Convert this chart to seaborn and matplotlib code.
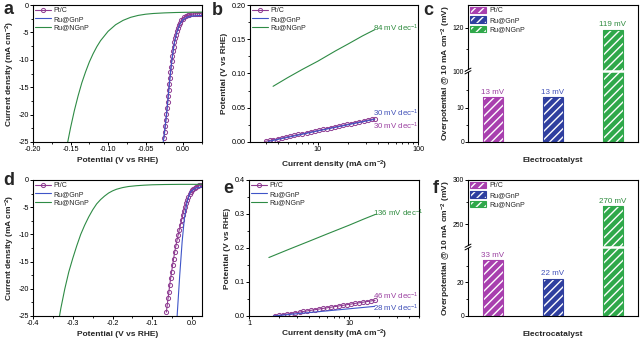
import numpy as np
import pandas as pd
import matplotlib
matplotlib.use("Agg")
import matplotlib.pyplot as plt
import seaborn as sns
from matplotlib.patches import Patch, Rectangle
from matplotlib.legend_handler import HandlerTuple
from matplotlib.lines import Line2D
from matplotlib.ticker import (MultipleLocator, LogLocator, NullFormatter,
                               FuncFormatter, FixedLocator)

# ---------------- data ----------------
series = ["Pt/C", "Ru@GnP", "Ru@NGnP"]

# (a) LSV, acidic
a_ptc_E = [-0.0256, -0.0247, -0.0240, -0.0231, -0.0223, -0.0215, -0.0207, -0.0201, -0.0194,
           -0.0187, -0.0179, -0.0171, -0.0162, -0.0153, -0.0144, -0.0135, -0.0126, -0.0117,
           -0.0107, -0.0096, -0.0084, -0.0071, -0.0057, -0.0042, -0.0026, -0.0008, 0.0012,
           0.0034, 0.0057, 0.0082, 0.0108, 0.0134, 0.0160, 0.0187, 0.0213, 0.0240]
a_ptc_j = [-24.3, -23.2, -22.1, -21.0, -19.9, -18.8, -17.7, -16.6, -15.5, -14.4, -13.3, -12.3,
           -11.3, -10.3, -9.3, -8.4, -7.6, -6.8, -6.1, -5.4, -4.8, -4.2, -3.7, -3.2, -2.8, -2.5,
           -2.25, -2.05, -1.9, -1.8, -1.72, -1.66, -1.62, -1.60, -1.58, -1.57]
a_gnp_E = [-0.0270, -0.0222, -0.0188, -0.0155, -0.0122, -0.0088, -0.0048, -0.0005, 0.0055, 0.0130, 0.0250]
a_gnp_j = [-25.5, -20.0, -15.0, -10.5, -7.2, -5.1, -3.6, -2.7, -2.2, -2.0, -1.9]
a_ngnp_E = [-0.1545, -0.150, -0.145, -0.140, -0.135, -0.130, -0.125, -0.120, -0.115, -0.110,
            -0.100, -0.090, -0.080, -0.070, -0.060, -0.050, -0.040, -0.025, -0.010, 0.010, 0.025]
a_ngnp_j = [-25.5, -22.4, -19.3, -16.6, -14.2, -12.2, -10.4, -8.9, -7.6, -6.5, -4.8, -3.6, -2.8,
            -2.25, -1.9, -1.68, -1.55, -1.44, -1.37, -1.32, -1.30]

# (b) Tafel, acidic
b_ptc_i = [3.0, 3.3, 3.6, 4.0, 4.4, 4.8, 5.3, 5.8, 6.4, 7.0, 7.7, 8.5, 9.3, 10.2, 11.2, 12.3,
           13.5, 14.8, 16.3, 17.9, 19.7, 21.6, 23.7, 26.0, 28.6, 31.4, 34.5, 37.0]
b_ptc_V = [0.0010, 0.0022, 0.0034, 0.0048, 0.0060, 0.0072, 0.0085, 0.0097, 0.0110, 0.0121,
           0.0134, 0.0147, 0.0159, 0.0171, 0.0183, 0.0195, 0.0208, 0.0220, 0.0233, 0.0245,
           0.0258, 0.0270, 0.0282, 0.0294, 0.0307, 0.0319, 0.0331, 0.0340]
b_gnp_i = [3.2, 5.0, 10.0, 20.0, 37.0]
b_gnp_V = [0.0008, 0.0068, 0.0162, 0.0252, 0.0332]
b_ngnp_i = [3.57, 5.0, 7.0, 10.0, 15.0, 20.0, 28.0, 37.0]
b_ngnp_V = [0.0813, 0.094, 0.106, 0.118, 0.133, 0.143, 0.155, 0.164]
b_slopes = [30, 30, 84]

# (c) overpotential @ 10 mA cm-2, acidic
c_overpot = [13, 13, 119]

# (d) LSV, alkaline
d_ptc_E = [-0.0647, -0.0625, -0.0603, -0.0582, -0.0561, -0.0539, -0.0515, -0.0490, -0.0465,
           -0.0438, -0.0410, -0.0380, -0.0350, -0.0320, -0.0290, -0.0262, -0.0236, -0.0208,
           -0.0180, -0.0152, -0.0126, -0.0095, -0.0063, -0.0032, 0.0000, 0.0035, 0.0070,
           0.0105, 0.0140, 0.0175, 0.0210, 0.0245]
d_ptc_j = [-24.3, -23.0, -21.7, -20.5, -19.3, -18.1, -16.9, -15.7, -14.5, -13.3, -12.2, -11.1,
           -10.1, -9.1, -8.2, -7.3, -6.5, -5.7, -5.0, -4.3, -3.7, -3.1, -2.6, -2.2, -1.9, -1.6,
           -1.4, -1.25, -1.1, -1.0, -0.92, -0.86]
d_gnp_E = [-0.0380, -0.0310, -0.0250, -0.0194, -0.0126, -0.0043, 0.0083, 0.0250]
d_gnp_j = [-25.5, -17.5, -11.4, -7.1, -4.0, -2.2, -1.5, -1.3]
d_ngnp_E = [-0.3345, -0.330, -0.320, -0.310, -0.300, -0.290, -0.280, -0.270, -0.260, -0.250,
            -0.240, -0.230, -0.220, -0.210, -0.200, -0.190, -0.175, -0.160, -0.140, -0.120,
            -0.100, -0.070, -0.030, 0.025]
d_ngnp_j = [-25.5, -23.6, -20.0, -16.9, -14.4, -12.1, -10.0, -8.3, -6.8, -5.5, -4.4, -3.6,
            -2.95, -2.4, -2.0, -1.7, -1.4, -1.2, -1.05, -0.95, -0.88, -0.83, -0.80, -0.80]

# (e) Tafel, alkaline
e_ptc_i = [1.8, 2.0, 2.2, 2.4, 2.6, 2.9, 3.2, 3.5, 3.8, 4.2, 4.6, 5.0, 5.5, 6.0, 6.6, 7.2,
           7.9, 8.7, 9.6, 10.5, 11.5, 12.6, 13.8, 15.1, 16.6, 18.2]
e_ptc_V = [0.0000, 0.0021, 0.0040, 0.0057, 0.0073, 0.0095, 0.0115, 0.0133, 0.0149, 0.0169,
           0.0187, 0.0204, 0.0223, 0.0240, 0.0259, 0.0277, 0.0295, 0.0314, 0.0334, 0.0352,
           0.0370, 0.0388, 0.0406, 0.0424, 0.0443, 0.0461]
e_gnp_i = [1.75, 3.0, 5.0, 10.0, 18.0]
e_gnp_V = [0.0, 0.0066, 0.0128, 0.0212, 0.0283]
e_ngnp_i = [1.58, 2.5, 4.0, 6.0, 10.0, 14.0, 18.4]
e_ngnp_V = [0.172, 0.196, 0.220, 0.241, 0.267, 0.285, 0.299]
e_slopes = [46, 28, 136]

# (f) overpotential @ 10 mA cm-2, alkaline
f_overpot = [33, 22, 270]

# ---------------- style ----------------
line_colors = {"Pt/C": "#8e3b91", "Ru@GnP": "#3f55c8", "Ru@NGnP": "#2e8b45"}
bar_colors = {"Pt/C": "#a83fae", "Ru@GnP": "#2f3f9f", "Ru@NGnP": "#2fa84a"}
text_colors = {"Pt/C": "#9a3fa0", "Ru@GnP": "#4050b8", "Ru@NGnP": "#2e8b3e"}

sns.set_theme(style="ticks")
plt.rcParams.update({
    "font.family": ["Liberation Sans", "DejaVu Sans"],
    "mathtext.fontset": "custom",
    "mathtext.rm": "Liberation Sans",
    "mathtext.it": "Liberation Sans:italic",
    "mathtext.bf": "Liberation Sans:bold",
    "axes.unicode_minus": False,
    "axes.linewidth": 0.8,
    "axes.edgecolor": "black",
    "hatch.linewidth": 1.0,
})

W, H = 640, 343
fig = plt.figure(figsize=(W / 100, H / 100), dpi=100)


def box(l, t, r, b):
    return [l / W, 1 - b / H, (r - l) / W, (b - t) / H]


TICK = 5.2
LAB = 6.0
LEG = 5.0


def style(ax, size=TICK):
    ax.tick_params(which="both", direction="out", top=False, right=False,
                   labelsize=size, colors="black", pad=0.8)
    ax.tick_params(which="major", length=2.0, width=0.7)
    ax.tick_params(which="minor", length=1.3, width=0.6)
    for s in ax.spines.values():
        s.set_linewidth(0.8)
        s.set_color("black")


def fmt(nd):
    def f(v, p):
        if abs(v) < 1e-9:
            v = 0.0
        return f"{v:.{nd}f}"
    return FuncFormatter(f)


def draw_curves(ax, curves):
    for name, xs, ys in curves:
        df = pd.DataFrame({"x": xs, "y": ys})
        kw = dict(color=line_colors[name], lw=0.8, label=name, sort=False, estimator=None)
        if name == "Pt/C":
            kw.update(marker="o", markersize=3, markerfacecolor="none",
                      markeredgecolor=line_colors[name], markeredgewidth=0.7)
        sns.lineplot(data=df, x="x", y="y", ax=ax, **kw)
    ax.legend(loc="upper left", frameon=False, fontsize=LEG, handlelength=2.3,
              handletextpad=0.3, labelspacing=0.2, borderaxespad=0.15, borderpad=0.2)


ylab_j = r"Current density (mA cm$^{\mathbf{-2}}$)"
xlab_E = "Potential (V vs RHE)"

# ---- (a) and (d): polarisation curves ----
for rect, curves, xlo, xstep, nd in [
    (box(33, 5, 202, 142),
     [("Pt/C", a_ptc_E, a_ptc_j), ("Ru@GnP", a_gnp_E, a_gnp_j), ("Ru@NGnP", a_ngnp_E, a_ngnp_j)],
     -0.2, 0.05, 2),
    (box(33, 180, 202, 316),
     [("Pt/C", d_ptc_E, d_ptc_j), ("Ru@GnP", d_gnp_E, d_gnp_j), ("Ru@NGnP", d_ngnp_E, d_ngnp_j)],
     -0.4, 0.1, 1),
]:
    ax = fig.add_axes(rect)
    draw_curves(ax, curves)
    ax.set_xlim(xlo, 0.025)
    ax.set_ylim(-25, 0)
    ax.xaxis.set_major_locator(MultipleLocator(xstep))
    ax.xaxis.set_minor_locator(MultipleLocator(xstep / 2))
    ax.xaxis.set_major_formatter(fmt(nd))
    ax.yaxis.set_major_locator(MultipleLocator(5))
    ax.yaxis.set_minor_locator(MultipleLocator(2.5))
    ax.yaxis.set_major_formatter(fmt(0))
    style(ax)
    ax.set_xlabel(xlab_E, fontsize=LAB, fontweight="bold", labelpad=3)
    ax.set_ylabel(ylab_j, fontsize=LAB, fontweight="bold", labelpad=1.5)

# ---- (b) and (e): Tafel plots ----
for rect, curves, xlim, ylim, ystep, nd, slopes, ypos, xpad in [
    (box(250, 5, 418, 142),
     [("Pt/C", b_ptc_i, b_ptc_V), ("Ru@GnP", b_gnp_i, b_gnp_V), ("Ru@NGnP", b_ngnp_i, b_ngnp_V)],
     (2.1, 100), (0, 0.2), 0.05, 2, b_slopes, [0.115, 0.207, 0.83], 4),
    (box(249, 180, 419, 316),
     [("Pt/C", e_ptc_i, e_ptc_V), ("Ru@GnP", e_gnp_i, e_gnp_V), ("Ru@NGnP", e_ngnp_i, e_ngnp_V)],
     (1, 50), (0, 0.4), 0.1, 1, e_slopes, [0.143, 0.057, 0.755], 0.5),
]:
    ax = fig.add_axes(rect)
    draw_curves(ax, curves)
    ax.set_xscale("log")
    ax.set_xlim(*xlim)
    ax.set_ylim(*ylim)
    ax.xaxis.set_major_locator(LogLocator(base=10))
    ax.xaxis.set_minor_locator(LogLocator(base=10, subs=np.arange(2, 10)))
    ax.xaxis.set_major_formatter(FuncFormatter(lambda v, p: f"{v:g}"))
    ax.xaxis.set_minor_formatter(NullFormatter())
    ax.yaxis.set_major_locator(MultipleLocator(ystep))
    ax.yaxis.set_minor_locator(MultipleLocator(ystep / 2))
    ax.yaxis.set_major_formatter(fmt(nd))
    style(ax)
    ax.set_xlabel(ylab_j, fontsize=LAB, fontweight="bold", labelpad=xpad)
    ax.set_ylabel(xlab_E, fontsize=LAB, fontweight="bold", labelpad=3)
    for name, s, yp in zip(series, slopes, ypos):
        ax.text(0.73, yp, f"{s} mV dec$^{{-1}}$", transform=ax.transAxes, fontsize=5.7,
                color=text_colors[name], va="center", ha="left")


# ---- (c) and (f): overpotential bars with broken axis ----
def break_mark(ax_lo):
    pos = ax_lo.get_position()
    x, y = pos.x0, pos.y1
    px, py = 1 / W, 1 / H
    fig.add_artist(Rectangle((x - 2 * px, y - 1.3 * py), 4 * px, 2.6 * py,
                             transform=fig.transFigure, facecolor="white",
                             edgecolor="none", zorder=10))
    for dy in (-1.3, 1.3):
        fig.add_artist(Line2D([x - 3 * px, x + 3 * px], [y + (dy - 1.6) * py, y + (dy + 1.6) * py],
                              transform=fig.transFigure, color="black", lw=0.7, zorder=11))


def bar_panel(top, brk, bottom, values, lo_lim, hi_lim, lo_ticks, lo_minor, hi_ticks, hi_minor):
    ax_hi = fig.add_axes(box(468, top, 638, brk))
    ax_lo = fig.add_axes(box(468, brk, 638, bottom))
    df = pd.DataFrame({"cat": series, "val": values})
    for ax, lim in ((ax_lo, lo_lim), (ax_hi, hi_lim)):
        sns.barplot(data=df, x="cat", y="val", hue="cat", palette=bar_colors, width=0.32,
                    errorbar=None, legend=False, saturation=1, ax=ax)
        ax.set_ylim(*lim)
        ax.set_xlim(-0.417, 2.417)
        for patch, name in zip(ax.patches, series):
            patch.set_edgecolor("white")
            patch.set_linewidth(0)
            patch.set_hatch("////")
            ax.add_patch(Rectangle(patch.get_xy(), patch.get_width(), patch.get_height(),
                                   fill=False, edgecolor=bar_colors[name], lw=0.8, zorder=3))
        for patch, name, v in zip(ax.patches[:len(series)], series, values):
            if lim[0] <= v <= lim[1]:
                ax.annotate(f"{v} mV", xy=(patch.get_x() + patch.get_width() / 2, v),
                            xytext=(0, 1.2), textcoords="offset points", ha="center",
                            va="bottom", fontsize=5.8, color=text_colors[name])
            if ax is ax_lo and v > lim[1]:
                ax.plot([patch.get_x(), patch.get_x() + patch.get_width()], [lim[1], lim[1]],
                        color="white", lw=1.8, clip_on=False, zorder=5,
                        solid_capstyle="projecting")
        ax.set_xticks([])
        ax.set_ylabel("")
        ax.set_xlabel("")
        style(ax, size=4.9)
    ax_lo.yaxis.set_major_locator(FixedLocator(lo_ticks))
    ax_lo.yaxis.set_minor_locator(FixedLocator(lo_minor))
    ax_hi.yaxis.set_major_locator(FixedLocator(hi_ticks))
    ax_hi.yaxis.set_minor_locator(FixedLocator(hi_minor))
    ax_lo.spines["top"].set_visible(False)
    ax_hi.spines["bottom"].set_visible(False)
    ax_lo.set_xlabel("Electrocatalyst", fontsize=LAB, fontweight="bold", labelpad=11)
    handles = [(Patch(facecolor=bar_colors[n], edgecolor="white", hatch="////", lw=0),
                Patch(facecolor="none", edgecolor=bar_colors[n], lw=0.8)) for n in series]
    ax_hi.legend(handles, series, handler_map={tuple: HandlerTuple(ndivide=1, pad=0)},
                 loc="upper left", frameon=False, fontsize=LEG, handlelength=2.4,
                 handleheight=1.1, handletextpad=0.4, labelspacing=0.25,
                 borderaxespad=0.1, borderpad=0.15)
    break_mark(ax_lo)
    yc = 1 - ((top + bottom) / 2) / H
    fig.text(446 / W, yc, r"Overpotential @ 10 mA cm$^{\mathbf{-2}}$ (mV)", rotation=90,
             fontsize=LAB, fontweight="bold", ha="center", va="center")


bar_panel(5, 71, 142, c_overpot, (0, 20.6), (100, 130.5), [0, 10], [5, 15], [100, 120], [110])
bar_panel(180, 247, 316, f_overpot, (0, 41), (224, 300), [0, 20], [10, 30], [250, 300], [275])

# panel letters
for letter, x, y in [("a", 3, 14), ("b", 212, 15), ("c", 423, 15),
                     ("d", 3, 185), ("e", 223, 193), ("f", 433, 193)]:
    fig.text(x / W, 1 - y / H, letter, fontsize=13, fontweight="bold", ha="left", va="baseline")

fig.savefig("out.png", dpi=100)
